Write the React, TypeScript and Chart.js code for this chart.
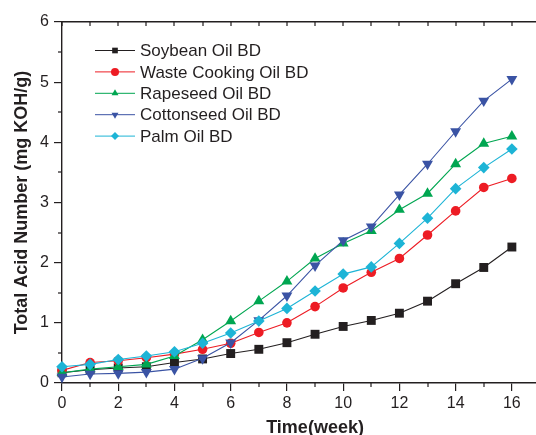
import React, { useEffect, useRef } from 'react';
import { Chart, registerables } from 'chart.js';

Chart.register(...registerables);

const weeks = [0, 1, 2, 3, 4, 5, 6, 7, 8, 9, 10, 11, 12, 13, 14, 15, 16];
const soybean = [0.17, 0.22, 0.25, 0.27, 0.34, 0.4, 0.49, 0.56, 0.67, 0.81, 0.94, 1.04, 1.16, 1.36, 1.65, 1.92, 2.26];
const wasteCooking = [0.21, 0.34, 0.37, 0.42, 0.48, 0.56, 0.66, 0.84, 1.0, 1.27, 1.58, 1.84, 2.07, 2.46, 2.86, 3.25, 3.4];
const rapeseed = [0.17, 0.23, 0.27, 0.31, 0.45, 0.72, 1.03, 1.36, 1.69, 2.07, 2.32, 2.53, 2.88, 3.15, 3.64, 3.98, 4.1];
const cottonseed = [0.1, 0.15, 0.16, 0.18, 0.23, 0.41, 0.67, 1.04, 1.45, 1.95, 2.37, 2.6, 3.13, 3.64, 4.18, 4.69, 5.05];
const palm = [0.27, 0.31, 0.39, 0.45, 0.52, 0.66, 0.83, 1.03, 1.24, 1.53, 1.81, 1.93, 2.32, 2.74, 3.23, 3.58, 3.89];

const seriesNames = ['Soybean Oil BD', 'Waste Cooking Oil BD', 'Rapeseed Oil BD', 'Cottonseed Oil BD', 'Palm Oil BD'];
const seriesValues = [soybean, wasteCooking, rapeseed, cottonseed, palm];
const seriesColors = ['#231f20', '#ed1c24', '#00a651', '#3a53a4', '#1db4d6'];
const seriesShapes = ['rect', 'circle', 'triangle', 'triangleDown', 'rectRot'];
const seriesRadius = [6.3, 4.8, 6.3, 6.3, 5.8];

const xTickValues = [0, 2, 4, 6, 8, 10, 12, 14, 16, 18];
const yTickValues = [0, 1, 2, 3, 4, 5, 6];
const xMinorValues = [1, 3, 5, 7, 9, 11, 13, 15, 17];
const yMinorValues = [0.5, 1.5, 2.5, 3.5, 4.5, 5.5];

const AXIS = '#231f20';
const FONT = '"Liberation Sans", Arial, sans-serif';

function drawShape(ctx: CanvasRenderingContext2D, shape: string, x: number, y: number, r: number, color: string) {
  ctx.save();
  ctx.fillStyle = color;
  ctx.beginPath();
  if (shape === 'rect') {
    const s = r * Math.SQRT1_2;
    ctx.rect(x - s, y - s, 2 * s, 2 * s);
  } else if (shape === 'circle') {
    ctx.arc(x, y, r, 0, Math.PI * 2);
  } else if (shape === 'triangle') {
    ctx.moveTo(x, y - r);
    ctx.lineTo(x + r * 0.866, y + r * 0.5);
    ctx.lineTo(x - r * 0.866, y + r * 0.5);
  } else if (shape === 'triangleDown') {
    ctx.moveTo(x, y + r);
    ctx.lineTo(x + r * 0.866, y - r * 0.5);
    ctx.lineTo(x - r * 0.866, y - r * 0.5);
  } else {
    ctx.moveTo(x, y - r);
    ctx.lineTo(x + r, y);
    ctx.lineTo(x, y + r);
    ctx.lineTo(x - r, y);
  }
  ctx.closePath();
  ctx.fill();
  ctx.restore();
}

function drawMinorTicks(chart: any) {
  const ctx = chart.ctx;
  const xs = chart.scales['x'];
  const ys = chart.scales['y'];
  if (!xs || !ys) return;
  const left = xs.getPixelForValue(0);
  const bottom = ys.getPixelForValue(0);
  const top = ys.getPixelForValue(6);
  ctx.save();
  ctx.fillStyle = AXIS;
  for (const v of xMinorValues) {
    const px = Math.round(xs.getPixelForValue(v));
    ctx.fillRect(px - 0.6, bottom, 1.2, 4);
  }
  for (let v = 0; v <= 18; v += 1) {
    const px = Math.round(xs.getPixelForValue(v));
    ctx.fillRect(px - 0.6, top, 1.2, 4);
  }
  for (const v of yMinorValues) {
    const py = Math.round(ys.getPixelForValue(v));
    ctx.fillRect(left - 4, py - 0.6, 4, 1.2);
  }
  ctx.restore();
}

function drawLegend(chart: any) {
  const ctx = chart.ctx;
  const x0 = 95;
  const y0 = 50.5;
  const step = 21.4;
  ctx.save();
  ctx.font = `17px ${FONT}`;
  ctx.textBaseline = 'middle';
  ctx.textAlign = 'left';
  seriesNames.forEach((name, i) => {
    const y = y0 + step * i;
    ctx.strokeStyle = seriesColors[i];
    ctx.lineWidth = 1;
    ctx.beginPath();
    ctx.moveTo(x0, y);
    ctx.lineTo(x0 + 40, y);
    ctx.stroke();
    drawShape(ctx, seriesShapes[i], x0 + 20, y, 4, seriesColors[i]);
    ctx.fillStyle = AXIS;
    ctx.fillText(name, x0 + 45, y + 1);
  });
  ctx.restore();
}

const overlayPlugin = {
  id: 'overlayPlugin',
  afterDraw(chart: any) {
    drawMinorTicks(chart);
    drawLegend(chart);
  },
};

export default function App() {
  const ref = useRef<HTMLCanvasElement>(null);
  useEffect(() => {
    const canvas = ref.current;
    if (!canvas) return;
    const datasets = seriesNames.map((name, i) => {
      const shape = seriesShapes[i];
      return {
        label: name,
        data: weeks.map((w, j) => ({ x: w, y: seriesValues[i][j] })),
        borderColor: seriesColors[i],
        backgroundColor: seriesColors[i],
        borderWidth: 1.1,
        pointStyle: shape === 'triangleDown' ? 'triangle' : shape,
        rotation: shape === 'triangleDown' ? 180 : 0,
        pointRadius: seriesRadius[i],
        pointBorderWidth: 0,
        pointBorderColor: seriesColors[i],
        pointBackgroundColor: seriesColors[i],
        tension: 0,
        clip: false as any,
        order: seriesNames.length - i,
      };
    });
    const chart = new Chart(canvas, {
      type: 'line',
      data: { datasets },
      plugins: [overlayPlugin],
      options: {
        responsive: false,
        animation: false,
        devicePixelRatio: 1,
        layout: { padding: { top: 22, right: 10, left: 0, bottom: 0 } },
        plugins: { legend: { display: false }, tooltip: { enabled: false } },
        scales: {
          x: {
            type: 'linear',
            position: 'bottom',
            min: 0,
            max: 18,
            afterFit: (s: any) => { s.height = 52; },
            afterBuildTicks: (s: any) => { s.ticks = xTickValues.map((v) => ({ value: v })); },
            grid: { display: true, drawOnChartArea: false, drawTicks: true, tickLength: 8, color: AXIS, lineWidth: 1.2 },
            border: { display: true, color: AXIS, width: 1.4 },
            ticks: {
              autoSkip: false,
              maxRotation: 0,
              padding: 3,
              color: AXIS,
              font: { family: FONT, size: 16 },
            },
            title: {
              display: true,
              text: 'Time(week)',
              color: AXIS,
              padding: { top: 0, bottom: -2 },
              font: { family: FONT, size: 18, weight: 'bold', lineHeight: 1 },
            },
          },
          xTop: {
            type: 'linear',
            position: 'top',
            min: 0,
            max: 18,
            afterFit: (s: any) => { s.height = 0; },
            grid: { display: false },
            border: { display: true, color: AXIS, width: 1.4 },
            ticks: { display: false },
          },
          y: {
            type: 'linear',
            min: 0,
            max: 6,
            afterFit: (s: any) => { s.width = 62; },
            afterBuildTicks: (s: any) => { s.ticks = yTickValues.map((v) => ({ value: v })); },
            grid: { display: true, drawOnChartArea: false, drawTicks: true, tickLength: 8, color: AXIS, lineWidth: 1.2 },
            border: { display: true, color: AXIS, width: 1.4 },
            ticks: {
              padding: 5,
              color: AXIS,
              font: { family: FONT, size: 16 },
            },
            title: {
              display: true,
              text: 'Total Acid Number (mg KOH/g)',
              color: AXIS,
              padding: { top: 11, bottom: 0 },
              font: { family: FONT, size: 18, weight: 'bold' },
            },
          },
        },
      },
    });
    return () => chart.destroy();
  }, []);
  return (
    <div style={{ position: 'fixed', left: 0, top: 0, width: 536, height: 435, overflow: 'hidden', background: '#fff' }}>
      <canvas ref={ref} width={580} height={435} style={{ display: 'block', width: 580, height: 435 }} />
    </div>
  );
}
